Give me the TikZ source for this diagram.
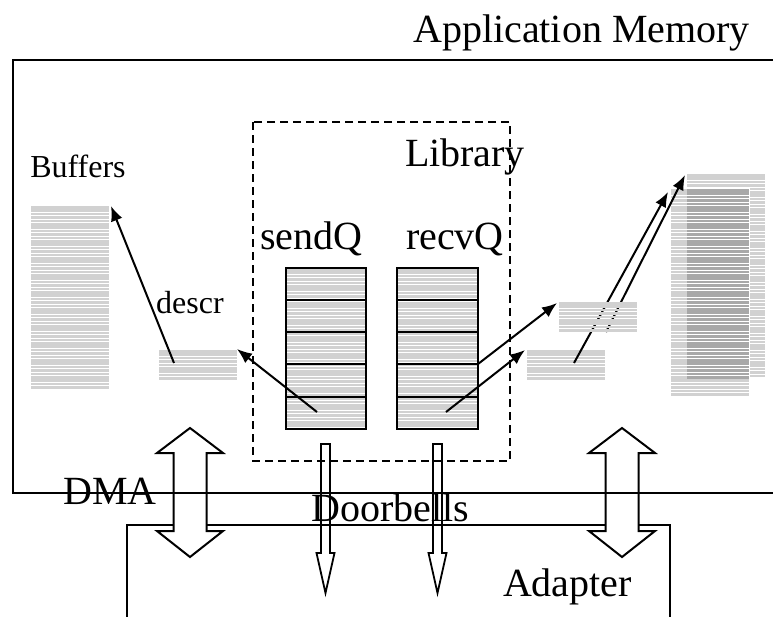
\documentclass[tikz,border=0pt]{standalone}
\usepackage{fontspec}
\setmainfont{Liberation Serif}
\usetikzlibrary{arrows.meta}
\definecolor{stripegray}{gray}{0.82}
\definecolor{stripedark}{gray}{0.66}
\newcommand\stripebox[5]{%
  \pgfmathtruncatemacro\nstripes{(#4-#2-2.5)/3.4}%
  \foreach \i in {0,...,\nstripes}{%
    \draw[#5,line width=2.5pt] (#1,{#2+1.25+3.4*\i}) -- (#3,{#2+1.25+3.4*\i});}}
\newcommand\dblarrow[1]{%
  \draw[dbl] (#1,428) -- ({#1+33},453) -- ({#1+16.5},453) -- ({#1+16.5},531) -- ({#1+33},531)
    -- (#1,557) -- ({#1-33},531) -- ({#1-16.5},531) -- ({#1-16.5},453) -- ({#1-33},453) -- cycle;}
\newcommand\bellarrow[1]{%
  \draw[bell] ({#1-4.5},444) -- ({#1+4.5},444) -- ({#1+4.5},553) -- ({#1+9},553)
    -- (#1,593) -- ({#1-9},553) -- ({#1-4.5},553) -- cycle;}
\begin{document}
\begin{tikzpicture}[x=1pt,y=-1pt,
  lbl/.style={font=\fontsize{40}{40}\selectfont, inner sep=0pt, anchor=base},
  slbl/.style={font=\fontsize{32}{32}\selectfont, inner sep=0pt, anchor=base},
  ptr/.style={line width=2pt, -{Latex[length=15pt,width=12pt]}},
  box/.style={line width=2.4pt},
  libbox/.style={line width=2.2pt, dash pattern=on 8pt off 5pt},
  dbl/.style={line width=2pt, fill=white},
  bell/.style={line width=1.8pt},
  qbox/.style={line width=2.2pt}]
\useasboundingbox (0,0) rectangle (773,616);
\clip (0,0) rectangle (773,616);

% buffers (lower layer)
\stripebox{31}{206}{109}{389}{stripegray}
\stripebox{159}{350}{237}{380}{stripegray}
\stripebox{527}{350}{605}{380}{stripegray}
\stripebox{687}{174}{765}{380}{stripegray}
\fill[white] (670,188) rectangle (750,396);
\stripebox{671}{189}{749}{396}{stripegray}
\stripebox{687}{189}{749}{380}{stripedark}

% endpoints
\coordinate (descrsrc) at (174,363);
\coordinate (bufLtop) at (111,206);
\coordinate (rlsrc) at (574,363);
\coordinate (bigfront) at (668,192);
\coordinate (rusrc) at (606,332);
\coordinate (bigback) at (685,175);
\coordinate (sendsrc) at (317,412);
\coordinate (descrtgt) at (237,349);
\coordinate (recvsrc) at (446,412);
\coordinate (rltgt) at (525,350);
\coordinate (recvedge) at (478,364);
\coordinate (rutgt) at (557,303);

\draw[ptr] (descrsrc) -- (bufLtop);
\draw[ptr] (rlsrc) -- (bigfront);
\draw[ptr] (rusrc) -- (bigback);

% upper right small buffer over the arrow
\stripebox{559}{302}{637}{332}{stripegray}

% queues
\stripebox{286}{268}{366}{429}{stripegray}
\stripebox{397}{268}{478}{429}{stripegray}
\node[qbox, draw, minimum width=80pt, minimum height=161pt, inner sep=0pt] (sendQbox) at (326,348.5) {};
\node[qbox, draw, minimum width=81pt, minimum height=161pt, inner sep=0pt] (recvQbox) at (437.5,348.5) {};
\foreach \yy in {300,332,364,397}{
  \draw[qbox] (sendQbox.west |- 0,\yy) -- (sendQbox.east |- 0,\yy);
  \draw[qbox] (recvQbox.west |- 0,\yy) -- (recvQbox.east |- 0,\yy);
}

\draw[ptr] (sendsrc) -- (descrtgt);
\draw[ptr] (recvsrc) -- (rltgt);
\draw[ptr] (recvedge) -- (rutgt);

% library
\draw[libbox] (253,122) rectangle (510,461);

% adapter
\draw[box] (127,630) -- (127,525) -- (670,525) -- (670,630);

% DMA arrows
\dblarrow{190}
\dblarrow{622}

% application memory
\draw[box] (790,60) -- (13,60) -- (13,493) -- (790,493);

% doorbells
\bellarrow{325.5}
\bellarrow{437.5}

% labels
\node[lbl] (appmem) at (581.5,42) {Application Memory};
\node[lbl] (library) at (465,166) {Library};
\node[slbl] (buffers) at (78,177) {Buffers};
\node[lbl] (sendQ) at (311.5,249) {sendQ};
\node[lbl] (recvQ) at (455,249) {recvQ};
\node[slbl] (descr) at (190,313) {descr};
\node[lbl] (dma) at (110,504) {DMA};
\node[lbl] (doorbells) at (390,521) {Doorbells};
\node[lbl] (adapter) at (567.5,596) {Adapter};
\end{tikzpicture}
\end{document}
